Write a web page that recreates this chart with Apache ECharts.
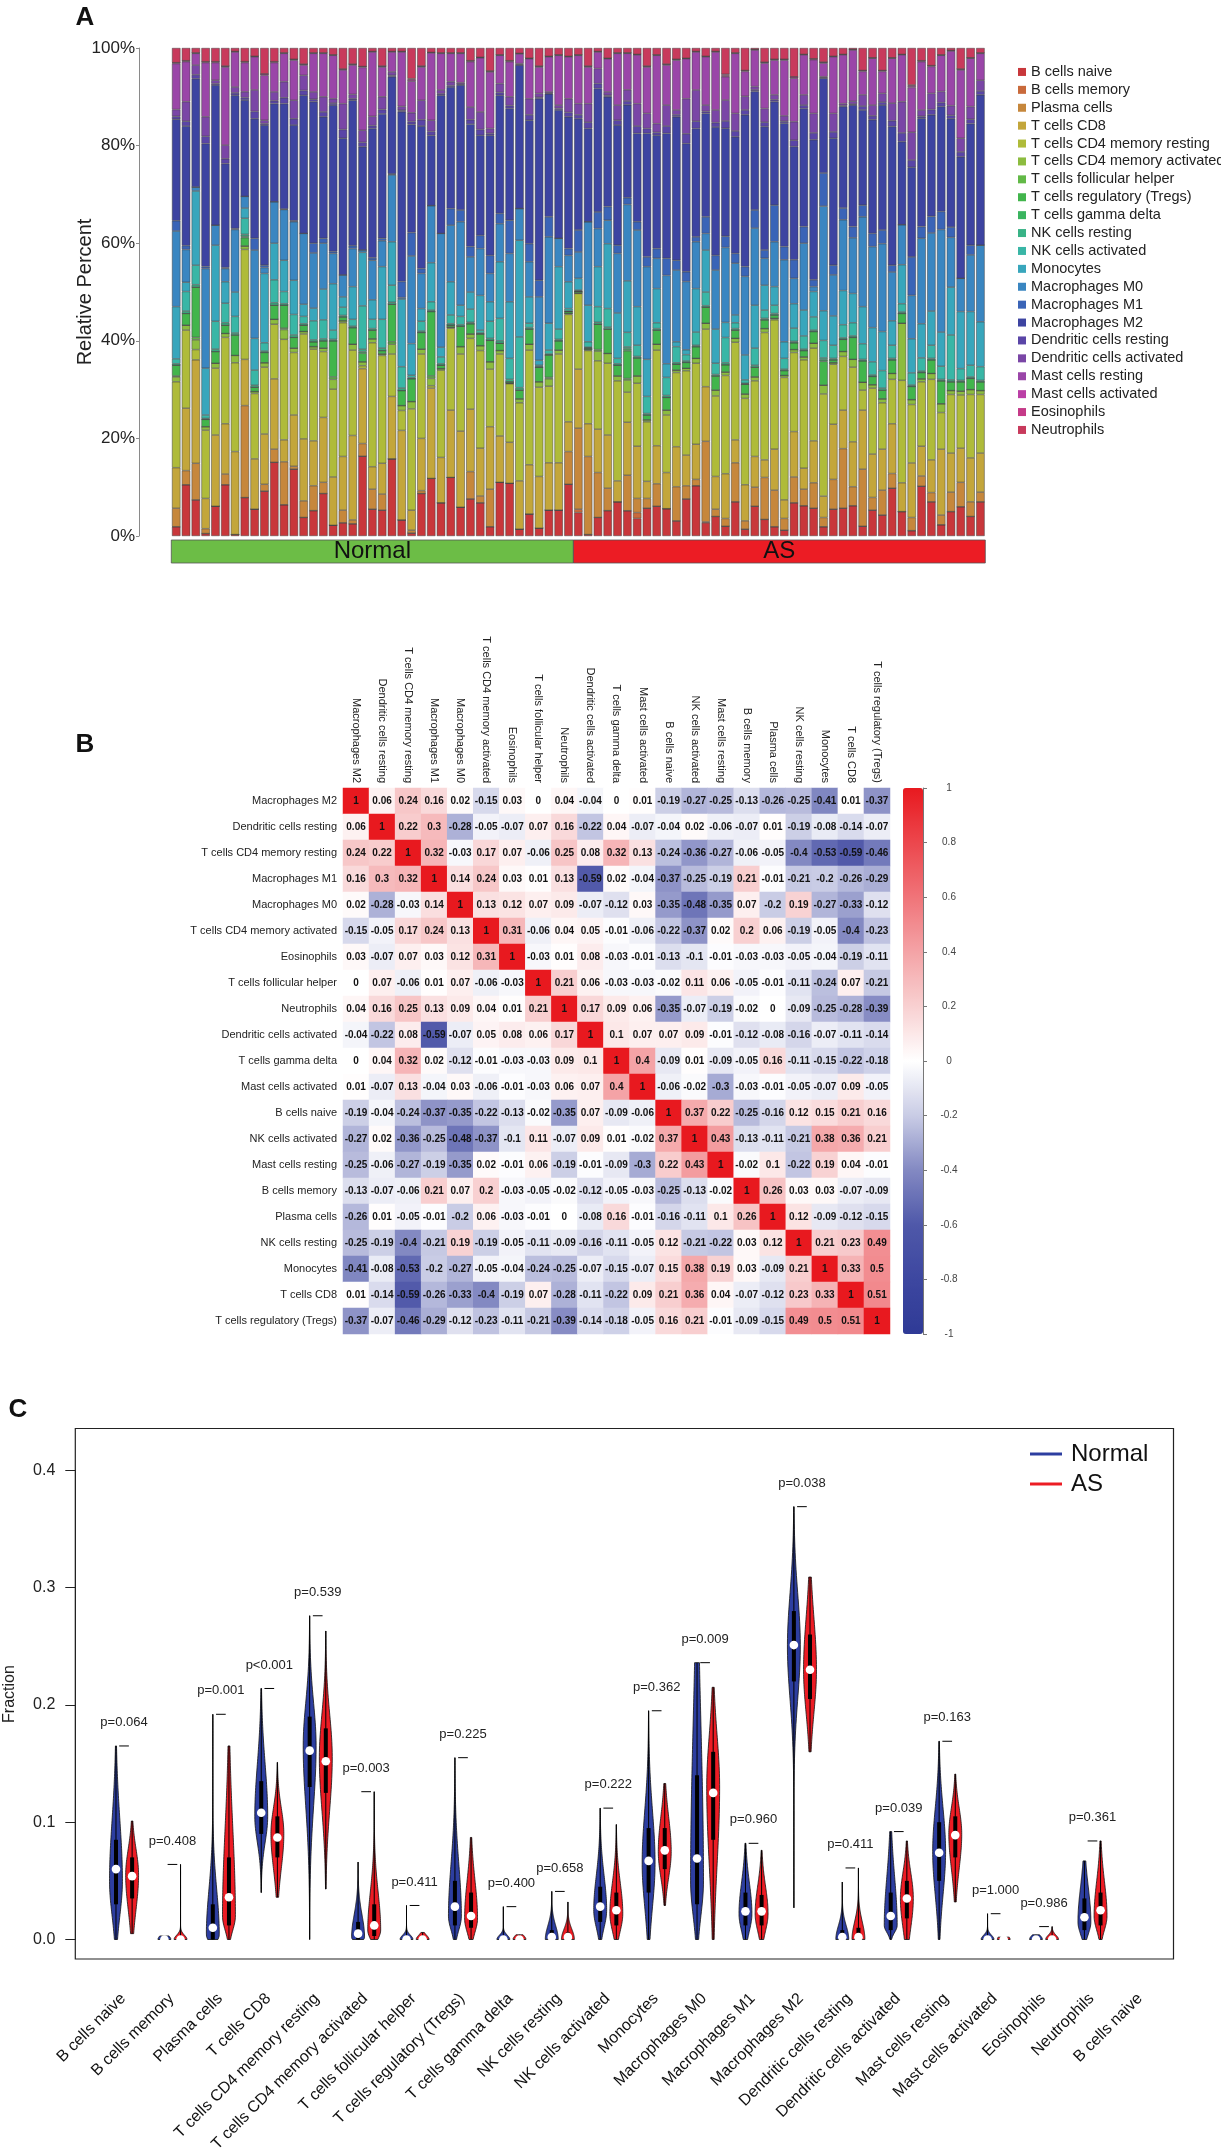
<!DOCTYPE html>
<html><head><meta charset="utf-8">
<script src="https://cdn.jsdelivr.net/npm/echarts/dist/echarts.min.js"></script>
<style>html,body{margin:0;padding:0;background:#fff}#c{width:1221px;height:2151px}</style>
</head><body><div id="c"></div>
<script>
// ---------- Panel A data (percent per sample, 83 samples) ----------
const cellTypes = ["B cells naive","B cells memory","Plasma cells","T cells CD8","T cells CD4 memory resting","T cells CD4 memory activated","T cells follicular helper","T cells regulatory (Tregs)","T cells gamma delta","NK cells resting","NK cells activated","Monocytes","Macrophages M0","Macrophages M1","Macrophages M2","Dendritic cells resting","Dendritic cells activated","Mast cells resting","Mast cells activated","Eosinophils","Neutrophils"];
const typeColors = ["#c8373b","#c96a3b","#c6873c","#c3a63b","#afbb3a","#8cbc3f","#62b947","#42b54c","#3ab45f","#38b386","#39b6a6","#38a6bc","#3a86c1","#3a64b7","#3d44a1","#5a45a7","#7a46a6","#9a46a8","#bb3fa6","#c53a88","#c83a5c"];
const groupNames = ["Normal","AS"];
const groupSizes = [41, 42];
const groupColors = ["#6cbd46","#ec1c24"];

const bNaive = [1.9,10.5,7.4,0.5,6.1,10.5,0.3,7.9,5.5,9.2,15.1,6.4,13.7,3.8,5.2,8.7,2.2,2.7,2.5,16.4,5.5,5.3,15.8,3.3,0.6,8.7,11.8,6.8,12.0,5.9,7.6,6.8,1.9,11.0,10.8,1.4,4.5,1.6,5.3,5.3,10.6,4.8,0.3,3.8,5.2,7.0,5.2,3.6,5.7,6.1,5.6,3.1,7.6,10.3,2.7,4.0,2.0,7.0,1.4,6.1,3.4,1.9,1.2,6.8,6.2,5.7,1.9,5.5,5.7,6.2,2.0,5.3,4.3,9.8,5.0,1.1,10.2,7.0,2.3,5.0,6.0,4.0,7.0];
const bMemory = [0,0,0,0,0,0,0,0,0,0,0,0,0,0,0,0,0,0,0,0,0,0,0,0,0,0,0,0,0,0,0,0,0,0,0,0,0,0,0,0,0,0.7,0,0,0,0,0,1.2,0,0,0,0,0,0,0.2,0,0,0,0,0,0,0,0,0,0,0,0,0,0,0,0,0,0,0,0,0,0,0,0,0,0,0,0];
const plasma = [3.8,2.9,7.5,1.0,0,2.2,0,18.9,0,1.4,2.7,8.8,0.6,3.4,5.1,2.3,0,2.6,0.8,2.6,4.1,3.3,0,0,0.6,0.6,0,0,0,0,5.6,1.4,7.7,0,0,0,0,0,0,0,6.7,16.6,16.0,9.2,4.6,0,7.3,2.9,2.0,4.6,0,7.0,2.7,1.3,16.5,1.5,1.6,8.0,1.7,3.9,8.6,7.5,2.4,5.3,3.4,5.2,1.9,6.1,12.2,3.9,11.7,2.6,5.1,3.0,0,2.7,2.1,1.9,2.0,4.0,5.0,3.0,2.0];
const tCD8 = [8.3,12.8,21.2,6.2,14.6,10.3,17.0,9.5,10.3,10.3,14.4,4.5,10.5,12.7,9.2,13.3,9.9,11.0,17.3,15.4,4.6,6.3,12.8,18.4,4.1,10.7,18.5,9.3,13.8,15.6,12.8,9.8,12.8,9.5,8.4,9.9,10.1,10.6,9.7,9.7,6.1,12.1,6.7,8.9,10.9,4.3,10.9,10.7,3.5,7.8,7.4,8.2,6.3,7.2,11.2,6.7,9.2,4.7,7.4,6.3,3.6,8.4,3.8,9.3,4.3,8.6,4.4,11.3,7.9,9.2,12.1,8.9,8.4,10.2,5.9,11.2,6.1,6.7,13.5,8.0,7.0,9.0,8.0];
const tCD4Resting = [17.6,16.0,2.1,14.0,13.7,17.7,18.2,22.6,13.4,13.7,11.2,20.6,12.8,21.5,18.8,13.5,18.0,27.4,17.5,0.6,25.4,22.1,8.7,4.1,20.8,17.3,0.5,17.9,16.8,15.8,14.5,20.0,11.8,16.8,12.0,16.0,23.5,18.3,15.7,22.3,22.0,15.5,15.0,14.0,14.7,20.5,6.2,12.9,12.2,19.6,11.8,15.2,17.3,16.6,11.8,16.5,20.2,20.0,17.7,15.5,26.1,26.5,25.1,16.2,22.2,19.0,21.0,12.3,11.0,15.3,4.1,13.5,9.5,9.1,21.0,12.0,13.2,16.5,7.5,12.0,10.9,13.0,12.0];
const tCD4Activated = [1.0,1.0,2.0,0.7,1.0,0.8,1.5,0.7,0.4,0.9,1.0,2.0,0.9,0.5,0.5,0.7,2.0,0.4,1.2,0.8,0.8,0.3,2.0,1.0,1.5,1.0,1.5,0.3,0.2,1.5,0.9,1.0,1.5,0.7,0.1,0.8,1.2,1.1,1.5,0.8,0.2,0.1,0.2,2.0,2.0,1.0,2.5,1.5,0.4,1.2,1.0,0.5,0.5,1.0,1.2,1.2,0.7,0.8,0.9,0.8,0.8,0.3,0.4,0.6,0.6,1.0,1.8,0.3,1.0,1.6,1.6,0.7,0.8,1.2,11.7,1.0,0.6,1.2,1.8,0.8,0.8,1.0,0.8];
const tFollicular = [0.2,0,0.5,0,0,0,0,0,0,0,0,0.3,0,0,0,0,0.5,0,0,0,0,0,0.5,0,0,0,0.5,0,0,0,0,0,0,0,0,0,0,0,0.3,0,0,0,0,0.3,0,0,0.3,0,0,0,0,0,0,0,0,0,0,0,0,0,0,0,0,0,0,0,0,0,0,0,0,0,0,0,0,0,0,0,0,0,0,0,0];
const tRegs = [2.2,2.4,10.3,1.5,2.4,1.7,4.2,1.7,0.9,2.1,2.9,4.7,2.2,1.3,1.0,1.5,7.4,0.8,3.4,1.8,1.8,0.7,7.7,3.1,4.7,3.4,13.2,0.7,0.4,4.2,2.1,2.4,4.4,1.5,0.3,1.8,3.1,3.0,4.6,1.9,0.4,0.3,0.3,5.2,5.0,2.2,5.7,3.7,1.0,2.9,2.6,1.2,1.2,2.4,3.3,2.9,1.5,1.7,2.0,2.0,1.8,0.7,1.0,1.4,1.3,2.4,4.9,0.6,2.5,4.5,4.4,1.7,1.8,2.8,2.0,2.7,1.3,2.8,4.7,1.8,1.9,2.3,1.8];
const tGammaDelta = [0,0,0,0,0,0,0,0.3,0,0,0,0,0,0,0,0,0,0,0,0.3,0,0,0,0,0,0,0,0,0,0,0,0,0,0,0,0,0,0,0,0,0,0,0,0,0,0,0.4,0,0,0,0,0,0,0,0,0,0,0,0,0,0,0,0,0,0,0,0.3,0,0,0,0,0,0,0,0,0,0,0,0,0,0,0,0];
const nkResting = [0.3,0.5,0.5,0.2,0.5,0.5,0.4,0.4,0.4,0.3,0.5,0.3,0.5,0.3,0.4,0.4,0.3,0.3,0.3,0.5,0.3,0.5,0.4,0.5,0.2,0.3,0.3,0.3,0.3,0.3,0.3,0.2,0.4,0.5,0.5,0.5,0.3,0.1,0.2,0.3,0.1,0.1,0.2,0.4,0.4,0.3,0.4,0.3,0.3,0.3,0.4,0.3,0.3,0.3,0.3,0.3,0.4,0.3,0.2,0.4,0.3,0.3,0.3,0.3,0.3,0.3,0.4,0.3,0.3,0.3,0.3,0.3,0.4,0.3,0.3,0.3,0.3,0.3,0.3,0.4,0.3,0.3,0.3];
const nkActivated = [1.0,4.0,4.0,0.7,5.7,4.0,3.4,3.3,3.1,1.7,4.7,2.5,4.2,1.5,3.9,3.9,1.9,1.7,1.4,8.9,1.9,5.9,3.5,4.4,0.5,2.0,1.7,1.4,1.8,1.7,2.7,0.6,3.5,4.6,4.3,10.4,0.9,0.3,0.8,2.1,0.5,0.2,1.1,3.2,3.8,1.1,3.0,2.3,3.5,1.2,3.7,3.3,1.3,2.7,2.8,2.3,5.2,1.2,0.7,3.5,1.7,1.7,2.2,2.7,2.7,2.7,3.6,2.7,2.7,2.7,3.2,2.7,3.6,2.7,1.7,2.5,2.7,2.7,2.7,9.2,2.4,2.4,2.8];
const monocytes = [10.7,1.9,15.2,9.6,15.6,4.4,5.0,2.1,6.5,14.2,7.5,6.4,7.0,2.5,2.6,6.3,9.5,2.1,6.7,11.0,4.0,10.8,8.9,13.9,6.5,2.6,8.0,2.0,6.8,2.3,3.5,7.1,4.0,11.6,11.6,19.8,5.4,1.0,5.5,12.8,5.5,2.4,7.5,8.2,13.3,9.3,10.6,7.9,7.6,7.0,2.8,1.0,1.0,8.9,8.6,7.0,3.1,1.6,5.1,8.8,5.1,3.8,3.4,5.0,5.3,5.2,6.1,6.0,7.0,6.0,7.6,7.0,8.0,5.0,8.0,7.0,7.0,7.0,7.0,9.8,11.7,11.0,9.2];
const macM0 = [15.5,6.7,0.8,20.4,4.1,2.7,12.8,2.4,18.1,1.2,8.5,10.4,12.0,14.5,11.3,9.4,6.2,4.5,7.8,0.5,8.1,5.3,13.7,0.3,18.0,7.2,11.7,23.3,11.6,17.1,7.2,9.6,5.8,7.8,9.9,6.5,7.2,13.0,17.7,5.8,5.4,5.4,17.1,7.8,4.8,12.2,15.7,15.7,19.0,6.2,18.1,14.7,14.0,9.6,3.4,12.1,15.4,10.6,16.1,15.8,5.5,9.2,16.8,5.2,13.7,1.0,21.5,8.4,14.5,11.4,18.4,16.6,18.0,10.0,8.2,8.9,17.5,16.0,21.0,10.2,6.8,11.6,15.7];
const macM1 = [2.1,0.8,0,0.4,0,0.2,0.2,0,2.4,0.5,0,0.1,0.2,0,2.0,1.0,0.4,0,0.6,0,0.5,0.5,0.2,3.3,4.8,1.0,0,0,3.4,2.4,2.1,2.7,3.7,2.1,6.8,0,3.7,3.4,4.1,0,1.4,4.5,0,3.4,2.8,1.7,1.4,1.7,2.0,2.0,3.5,2.0,2.0,1.0,3.4,3.0,2.3,2.0,2.0,3.7,1.7,7.5,2.7,3.8,3.4,1.4,6.8,2.0,2.4,2.3,2.4,2.7,2.8,1.4,0,7.9,2.4,3.4,3.7,2.1,0,2.0,0];
const macM2 = [20.8,24.5,22.2,25.2,28.7,21.3,27.3,19.8,24.5,28.7,20.1,21.6,19.6,28.3,29.0,24.9,30.0,28.0,29.8,21.2,26.5,25.5,19.9,34.9,22.2,29.2,14.4,28.3,24.9,25.6,25.1,20.5,24.6,24.2,22.9,29.4,25.3,37.2,25.2,26.3,27.0,22.8,19.1,25.3,22.5,24.6,19.1,18.1,25.3,23.2,25.6,29.4,26.3,22.2,21.2,26.3,22.2,23.9,31.1,24.3,25.3,21.2,25.3,23.2,24.2,28.7,19.5,26.0,20.8,24.9,19.5,23.3,25.6,28.4,17.0,18.4,22.2,20.8,21.5,22.2,24.9,24.9,30.8];
const dcResting = [0.6,1.0,0.8,1.5,0.3,1.0,0.5,0.5,1.5,0.3,0.6,1.2,1.3,1.0,0.5,1.0,0.4,1.8,0.3,0.9,0.6,0.9,0.3,0.3,0.6,1.3,0.8,0.3,0.3,0.2,0.9,1.2,0.4,0.6,0.6,0.1,1.1,0.3,0.1,0.3,0.9,0.8,1.3,1.0,0.3,1.0,0.8,1.5,1.0,0.6,1.5,0.4,2.0,1.5,0.4,0.9,1.5,1.2,1.0,0.3,0.9,0.4,0.4,1.3,0.7,1.4,0.1,1.3,0.2,0.2,0.8,0.8,0.6,1.2,1.8,1.5,0.4,1.1,0.8,0.7,1.0,0.9,0.8];
const dcActivated = [1.4,4.0,2.0,4.0,0.7,2.8,1.2,1.2,4.4,0.7,1.8,3.3,3.8,3.1,1.5,3.1,0.9,5.3,0.9,2.5,1.9,2.6,0.7,0.8,1.8,4.0,2.3,0.8,0.8,0.3,2.6,3.6,1.0,1.8,1.8,0.2,3.3,0.8,0.3,0.7,2.8,2.3,3.8,3.1,0.7,3.1,2.3,4.6,3.1,1.8,4.3,1.0,7.2,6.4,1.3,2.6,4.3,3.6,2.8,0.7,2.8,1.0,1.1,3.8,2.1,4.0,0.2,3.8,0.4,0.6,2.3,2.2,1.8,3.6,6.4,5.7,1.3,3.3,2.3,2.0,2.8,2.6,2.2];
const mastResting = [9.4,8.2,2.4,11.1,3.6,16.0,7.2,6.0,6.8,9.2,6.0,5.8,8.2,2.1,7.9,8.9,8.9,6.9,6.0,12.9,13.2,6.1,4.1,11.2,6.5,6.8,13.8,7.5,5.8,6.0,9.3,11.1,11.6,5.8,7.2,2.0,8.2,5.4,7.2,10.2,8.6,9.9,7.5,3.4,6.8,10.6,7.5,10.0,9.5,14.0,8.2,10.2,8.2,7.8,9.9,11.9,4.8,12.3,5.1,7.5,9.3,7.1,11.4,8.9,8.2,11.0,2.8,11.6,10.0,10.5,4.8,9.6,4.5,9.2,9.6,9.2,9.9,5.5,7.4,11.2,14.0,9.9,5.5];
const mastActivated = [0.2,0.2,0.1,0.2,0.2,0.2,0.1,0.2,0.1,0.3,0.2,0.1,0.2,0.2,0.1,0.1,0.1,0.2,0.2,0.2,0.1,0.2,0.1,0.1,0.3,0.2,0.1,0.1,0.1,0.1,0.2,0.1,0.2,0.1,0.2,0.1,0.1,0.2,0.1,0.1,0.1,0.1,0.2,0.1,0.1,0.1,0.1,0.1,0.2,0.1,0.2,0.2,0.1,0.1,0.1,0.1,0.2,0.1,0.2,0.1,0.2,0.2,0.2,0.3,0.1,0.2,0.2,0.1,0.1,0.1,0.2,0.1,0.2,0.1,0.1,0.3,0.2,0.2,0.1,0.1,0.2,0.1,0.1];
const eosinophils = [0,0,0,0,0,0,0,0,0,0,0,0,0,0,0,0,0,0,0,0,0,0,0,0,0.2,0,0,0,0,0,0,0,0,0,0,0,0,0,0,0,0,0,0,0,0,0,0,0,0,0,0,0,0,0,0,0,0.3,0,0,0,0,0,0,0,0,0,0,0,0,0,0,0,0,0,0,0.2,0,0,0,0,0,0,0];
const neutrophils = [3.0,2.6,1.0,2.8,2.8,3.7,0.7,2.8,1.7,5.3,2.8,1.0,2.3,3.3,1.0,1.0,1.4,4.3,3.3,3.8,0.7,3.7,0.7,0.7,6.3,3.7,0.9,1.0,1.0,1.0,2.6,1.9,4.7,1.4,2.6,1.1,2.1,3.7,1.7,1.4,1.7,1.4,3.7,0.7,2.1,1.0,1.0,1.3,3.7,1.4,3.3,2.3,2.1,0.7,1.7,0.7,5.4,1.0,4.6,0.3,2.9,2.3,2.3,5.9,1.3,2.2,2.9,1.7,1.3,0.3,4.6,2.0,4.6,2.0,1.3,7.6,2.6,3.6,1.4,0.5,4.3,2.0,1.0];
const yTicksA = [0,20,40,60,80,100];

// ---------- Panel B data ----------
const heatLabels = ["Macrophages M2","Dendritic cells resting","T cells CD4 memory resting","Macrophages M1","Macrophages M0","T cells CD4 memory activated","Eosinophils","T cells follicular helper","Neutrophils","Dendritic cells activated","T cells gamma delta","Mast cells activated","B cells naive","NK cells activated","Mast cells resting","B cells memory","Plasma cells","NK cells resting","Monocytes","T cells CD8","T cells regulatory (Tregs)"];
const corrMatrix = [
[1,0.06,0.24,0.16,0.02,-0.15,0.03,0,0.04,-0.04,0,0.01,-0.19,-0.27,-0.25,-0.13,-0.26,-0.25,-0.41,0.01,-0.37],
[0.06,1,0.22,0.3,-0.28,-0.05,-0.07,0.07,0.16,-0.22,0.04,-0.07,-0.04,0.02,-0.06,-0.07,0.01,-0.19,-0.08,-0.14,-0.07],
[0.24,0.22,1,0.32,-0.03,0.17,0.07,-0.06,0.25,0.08,0.32,0.13,-0.24,-0.36,-0.27,-0.06,-0.05,-0.4,-0.53,-0.59,-0.46],
[0.16,0.3,0.32,1,0.14,0.24,0.03,0.01,0.13,-0.59,0.02,-0.04,-0.37,-0.25,-0.19,0.21,-0.01,-0.21,-0.2,-0.26,-0.29],
[0.02,-0.28,-0.03,0.14,1,0.13,0.12,0.07,0.09,-0.07,-0.12,0.03,-0.35,-0.48,-0.35,0.07,-0.2,0.19,-0.27,-0.33,-0.12],
[-0.15,-0.05,0.17,0.24,0.13,1,0.31,-0.06,0.04,0.05,-0.01,-0.06,-0.22,-0.37,0.02,0.2,0.06,-0.19,-0.05,-0.4,-0.23],
[0.03,-0.07,0.07,0.03,0.12,0.31,1,-0.03,0.01,0.08,-0.03,-0.01,-0.13,-0.1,-0.01,-0.03,-0.03,-0.05,-0.04,-0.19,-0.11],
[0,0.07,-0.06,0.01,0.07,-0.06,-0.03,1,0.21,0.06,-0.03,-0.03,-0.02,0.11,0.06,-0.05,-0.01,-0.11,-0.24,0.07,-0.21],
[0.04,0.16,0.25,0.13,0.09,0.04,0.01,0.21,1,0.17,0.09,0.06,-0.35,-0.07,-0.19,-0.02,0,-0.09,-0.25,-0.28,-0.39],
[-0.04,-0.22,0.08,-0.59,-0.07,0.05,0.08,0.06,0.17,1,0.1,0.07,0.07,0.09,-0.01,-0.12,-0.08,-0.16,-0.07,-0.11,-0.14],
[0,0.04,0.32,0.02,-0.12,-0.01,-0.03,-0.03,0.09,0.1,1,0.4,-0.09,0.01,-0.09,-0.05,0.16,-0.11,-0.15,-0.22,-0.18],
[0.01,-0.07,0.13,-0.04,0.03,-0.06,-0.01,-0.03,0.06,0.07,0.4,1,-0.06,-0.02,-0.3,-0.03,-0.01,-0.05,-0.07,0.09,-0.05],
[-0.19,-0.04,-0.24,-0.37,-0.35,-0.22,-0.13,-0.02,-0.35,0.07,-0.09,-0.06,1,0.37,0.22,-0.25,-0.16,0.12,0.15,0.21,0.16],
[-0.27,0.02,-0.36,-0.25,-0.48,-0.37,-0.1,0.11,-0.07,0.09,0.01,-0.02,0.37,1,0.43,-0.13,-0.11,-0.21,0.38,0.36,0.21],
[-0.25,-0.06,-0.27,-0.19,-0.35,0.02,-0.01,0.06,-0.19,-0.01,-0.09,-0.3,0.22,0.43,1,-0.02,0.1,-0.22,0.19,0.04,-0.01],
[-0.13,-0.07,-0.06,0.21,0.07,0.2,-0.03,-0.05,-0.02,-0.12,-0.05,-0.03,-0.25,-0.13,-0.02,1,0.26,0.03,0.03,-0.07,-0.09],
[-0.26,0.01,-0.05,-0.01,-0.2,0.06,-0.03,-0.01,0,-0.08,0.16,-0.01,-0.16,-0.11,0.1,0.26,1,0.12,-0.09,-0.12,-0.15],
[-0.25,-0.19,-0.4,-0.21,0.19,-0.19,-0.05,-0.11,-0.09,-0.16,-0.11,-0.05,0.12,-0.21,-0.22,0.03,0.12,1,0.21,0.23,0.49],
[-0.41,-0.08,-0.53,-0.2,-0.27,-0.05,-0.04,-0.24,-0.25,-0.07,-0.15,-0.07,0.15,0.38,0.19,0.03,-0.09,0.21,1,0.33,0.5],
[0.01,-0.14,-0.59,-0.26,-0.33,-0.4,-0.19,0.07,-0.28,-0.11,-0.22,0.09,0.21,0.36,0.04,-0.07,-0.12,0.23,0.33,1,0.51],
[-0.37,-0.07,-0.46,-0.29,-0.12,-0.23,-0.11,-0.21,-0.39,-0.14,-0.18,-0.05,0.16,0.21,-0.01,-0.09,-0.15,0.49,0.5,0.51,1]
];
const corrColors = ["#2f3a96","#3d47a0","#4f58a9","#8389c2","#c9cce5","#ffffff","#f8d0d1","#f4a3a6","#f07479","#ec474d","#e8191f"];

// ---------- Panel C data: [min, q1, median, q3, max, mode] ----------
const normalStats = [
[0,0.03,0.060,0.085,0.165,0.05],[0,0,0,0,0.003,0],[0,0,0.01,0.03,0.192,0.004],[0.04,0.09,0.108,0.135,0.214,0.105],
[0,0.13,0.161,0.19,0.276,0.165],[0,0,0.005,0.015,0.066,0.002],[0,0,0,0,0.029,0],[0,0.012,0.028,0.05,0.155,0.02],
[0,0,0,0,0.028,0],[0,0,0.002,0.008,0.041,0],[0,0.015,0.028,0.045,0.112,0.025],[0,0.04,0.067,0.095,0.195,0.065],
[0,0.03,0.069,0.14,0.236,0.05],[0,0.012,0.024,0.04,0.082,0.022],[0.027,0.22,0.251,0.28,0.369,0.25],[0,0,0.002,0.008,0.049,0],
[0,0.008,0.02,0.04,0.092,0.012],[0,0.05,0.074,0.1,0.169,0.075],[0,0,0,0,0.022,0],[0,0,0,0,0.004,0],[0,0.008,0.019,0.035,0.067,0.015]
];
const asStats = [
[0.005,0.035,0.054,0.07,0.101,0.055],[0,0,0,0.002,0.064,0],[0,0.012,0.036,0.07,0.165,0.02],[0.036,0.07,0.087,0.105,0.151,0.09],
[0.043,0.125,0.152,0.18,0.263,0.155],[0,0.003,0.012,0.03,0.126,0.008],[0,0,0,0,0.006,0],[0,0.01,0.02,0.04,0.087,0.018],
[0,0,0,0,0.004,0],[0,0,0.002,0.006,0.032,0],[0,0.012,0.025,0.04,0.098,0.022],[0.029,0.06,0.076,0.095,0.133,0.075],
[0,0.085,0.125,0.16,0.215,0.13],[0,0.012,0.024,0.038,0.076,0.022],[0.16,0.205,0.23,0.26,0.309,0.23],[0,0,0.002,0.01,0.061,0],
[0,0.018,0.035,0.05,0.084,0.035],[0.032,0.07,0.089,0.105,0.141,0.09],[0,0,0,0,0.002,0],[0,0,0,0,0.011,0],[0,0.012,0.025,0.04,0.084,0.02]
];
const pLabels = ["p=0.064","p=0.408","p=0.001","p<0.001","p=0.539","p=0.003","p=0.411","p=0.225","p=0.400","p=0.658","p=0.222","p=0.362","p=0.009","p=0.960","p=0.038","p=0.411","p=0.039","p=0.163","p=1.000","p=0.986","p=0.361"];
const xTickLabels = cellTypes.concat(["B cells naive"]);
const yTicksC = [0,0.1,0.2,0.3,0.4];
const groupLineColors = ["#2d3ea0","#ec1c24"];

// ---------- build ----------
const FONT = '"Liberation Sans", Arial, Helvetica, sans-serif';
const fractionSeries = [bNaive,bMemory,plasma,tCD8,tCD4Resting,tCD4Activated,tFollicular,tRegs,tGammaDelta,nkResting,nkActivated,monocytes,macM0,macM1,macM2,dcResting,dcActivated,mastResting,mastActivated,eosinophils,neutrophils];
const sampleIds = bNaive.map((_, i) => 'S' + (i + 1));
const totals = sampleIds.map((_, j) => fractionSeries.reduce((s, arr) => s + arr[j], 0));
const groupRanges = [[0, groupSizes[0] - 1, 0], [groupSizes[0], groupSizes[0] + groupSizes[1] - 1, 1]];

const barSeries = fractionSeries.map((arr, t) => ({
  type: 'bar', name: cellTypes[t], stack: 'pct', xAxisIndex: 0, yAxisIndex: 0,
  barCategoryGap: '14%', silent: true,
  itemStyle: { color: typeColors[t], borderColor: '#404040', borderWidth: 0.5 },
  data: arr.map((v, j) => v / totals[j] * 100)
}));

const heatData = [];
corrMatrix.forEach((row, r) => row.forEach((v, c) => heatData.push([c, r, v])));

function violinRender(color) {
  return function (params, api) {
    const x = api.value(0), mn = api.value(1), q1 = api.value(2), md = api.value(3), q3 = api.value(4), mx = api.value(5), mode = api.value(6);
    const hw = api.size([0.4, 0])[0];
    const sL = Math.max(mode - q1, 0.0025) * 1.48, sR = Math.max(q3 - mode, 0.0025) * 1.48;
    const N = 70, left = [], right = [];
    for (let k = 0; k <= N; k++) {
      const y = mn + (mx - mn) * k / N;
      const s = y < mode ? sL : sR;
      const r = Math.exp(-0.5 * Math.pow((y - mode) / s, 2));
      const p = api.coord([x, y]);
      left.push([p[0] - hw * r, p[1]]);
      right.unshift([p[0] + hw * r, p[1]]);
    }
    const pMin = api.coord([x, mn]), pMax = api.coord([x, mx]);
    const pQ1 = api.coord([x, q1]), pQ3 = api.coord([x, q3]), pMd = api.coord([x, md]);
    const children = [
      { type: 'polygon', shape: { points: left.concat(right) }, style: { fill: color, stroke: '#111', lineWidth: 0.8 } },
      { type: 'line', shape: { x1: pMin[0], y1: pMin[1], x2: pMax[0], y2: pMax[1] }, style: { stroke: '#000', lineWidth: 1 } }
    ];
    if (pQ1[1] - pQ3[1] > 0.5) children.push({ type: 'rect', shape: { x: pQ1[0] - 2, y: pQ3[1], width: 4, height: pQ1[1] - pQ3[1] }, style: { fill: '#000' } });
    children.push({ type: 'circle', shape: { cx: pMd[0], cy: pMd[1], r: 4.3 }, style: { fill: '#fff' } });
    return { type: 'group', children };
  };
}

const violinNormal = {
  type: 'custom', name: 'Normal', xAxisIndex: 5, yAxisIndex: 5, silent: true,
  itemStyle: { color: groupLineColors[0] },
  data: normalStats.map((s, i) => [3 * i].concat(s)),
  renderItem: violinRender(groupLineColors[0])
};
const violinAS = {
  type: 'custom', name: 'AS', xAxisIndex: 5, yAxisIndex: 5, silent: true,
  itemStyle: { color: groupLineColors[1] },
  data: asStats.map((s, i) => [3 * i + 1].concat(s)),
  renderItem: violinRender(groupLineColors[1])
};
const pSeries = {
  type: 'custom', xAxisIndex: 5, yAxisIndex: 5, silent: true,
  data: pLabels.map((_, i) => [3 * i, Math.max(normalStats[i][4], asStats[i][4])]),
  renderItem: function (params, api) {
    const x0 = api.value(0), m = api.value(1);
    const a = api.coord([x0 + 0.2, m]), b = api.coord([x0 + 0.8, m]), t = api.coord([x0 + 0.5, m + 0.02]);
    return { type: 'group', children: [
      { type: 'line', shape: { x1: a[0], y1: a[1], x2: b[0], y2: b[1] }, style: { stroke: '#000', lineWidth: 1 } },
      { type: 'text', x: t[0], y: t[1], style: { text: pLabels[params.dataIndex], fontSize: 13, fontFamily: FONT, fill: '#222', align: 'center', verticalAlign: 'middle' } }
    ] };
  }
};
const xLabelSeries = {
  type: 'custom', xAxisIndex: 5, yAxisIndex: 5, silent: true,
  data: xTickLabels.map((_, i) => [3 * i + 1, -0.05]),
  renderItem: function (params, api) {
    const p = api.coord([api.value(0), api.value(1)]);
    return { type: 'text', x: p[0] - 9, y: p[1] - 2, rotation: Math.PI / 4,
      style: { text: xTickLabels[params.dataIndex], fontSize: 16, fontFamily: FONT, fill: '#111', align: 'right', verticalAlign: 'middle' } };
  }
};
const annotSeries = {
  type: 'custom', xAxisIndex: 1, yAxisIndex: 1, silent: true,
  data: groupRanges,
  renderItem: function (params, api) {
    const s = api.value(0), e = api.value(1), g = api.value(2);
    const bw = api.size([1, 0])[0];
    const p0 = api.coord([s, 1]), p1 = api.coord([e, 0]);
    const x0 = p0[0] - bw / 2, x1 = p1[0] + bw / 2;
    return { type: 'group', children: [
      { type: 'rect', shape: { x: x0, y: p0[1], width: x1 - x0, height: p1[1] - p0[1] }, style: { fill: groupColors[g], stroke: '#555', lineWidth: 0.8 } },
      { type: 'text', x: (x0 + x1) / 2, y: (p0[1] + p1[1]) / 2, style: { text: groupNames[g], fontSize: 24, fontFamily: FONT, fill: '#111', align: 'center', verticalAlign: 'middle' } }
    ] };
  }
};
const heatSeries = {
  type: 'heatmap', xAxisIndex: 2, yAxisIndex: 2, data: heatData, silent: true,
  label: { show: true, formatter: p => String(p.value[2]), fontSize: 10, fontWeight: 'bold', color: '#111', fontFamily: FONT },
  itemStyle: { borderWidth: 0 }, emphasis: { disabled: true }
};

const series = barSeries.concat([annotSeries, heatSeries, violinNormal, violinAS, pSeries, xLabelSeries]);
const heatIndex = barSeries.length + 1;

const option = {
  animation: false,
  textStyle: { fontFamily: FONT },
  grid: [
    { left: 171.3, top: 48, width: 814, height: 488 },
    { left: 171.3, top: 540, width: 814, height: 23 },
    { left: 343, top: 788, width: 547, height: 546 },
    { left: 903, top: 788, width: 20, height: 546 },
    { left: 75.3, top: 1428.5, width: 1098.2, height: 530.5, show: true, borderColor: '#222', borderWidth: 1.2 },
    { left: 75.3, top: 1470.3, width: 1098.2, height: 469.2 }
  ],
  xAxis: [
    { gridIndex: 0, type: 'category', data: sampleIds, show: false },
    { gridIndex: 1, type: 'category', data: sampleIds, show: false },
    { gridIndex: 2, type: 'category', data: heatLabels, position: 'top', axisLine: { show: false }, axisTick: { show: false }, splitLine: { show: false },
      axisLabel: { rotate: 90, interval: 0, fontSize: 11, color: '#222', margin: 5 } },
    { gridIndex: 3, type: 'value', show: false },
    { gridIndex: 4, type: 'value', min: -2.52, max: 65.52, show: false },
    { gridIndex: 5, type: 'value', min: -2.52, max: 65.52, show: false }
  ],
  yAxis: [
    { gridIndex: 0, type: 'value', min: yTicksA[0], max: yTicksA[yTicksA.length - 1], interval: 20, offset: 32.3,
      axisLine: { show: true, onZero: false, lineStyle: { color: '#8a8a8a' } }, axisTick: { show: true, length: 3, lineStyle: { color: '#8a8a8a' } },
      axisLabel: { formatter: '{value}%', fontSize: 17, color: '#222', margin: 4 }, splitLine: { show: false } },
    { gridIndex: 1, type: 'value', min: 0, max: 1, show: false },
    { gridIndex: 2, type: 'category', data: heatLabels, inverse: true, axisLine: { show: false }, axisTick: { show: false },
      axisLabel: { fontSize: 11, color: '#222', margin: 6, interval: 0 } },
    { gridIndex: 3, type: 'value', min: -1, max: 1, interval: 0.2, position: 'right',
      axisLine: { show: true, onZero: false, lineStyle: { color: '#777' } }, axisTick: { show: true, length: 4, lineStyle: { color: '#777' } },
      axisLabel: { fontSize: 10, color: '#444', margin: 26, align: 'center', formatter: v => String(Math.round(v * 10) / 10) }, splitLine: { show: false } },
    { gridIndex: 4, type: 'value', min: -0.01675, max: 0.4356, show: false },
    { gridIndex: 5, type: 'value', min: yTicksC[0], max: yTicksC[yTicksC.length - 1], interval: 0.1, position: 'left',
      axisLine: { show: true, onZero: false, lineStyle: { color: '#222' } }, axisTick: { show: true, length: 10, lineStyle: { color: '#222' } },
      axisLabel: { fontSize: 16, color: '#222', margin: 20, formatter: v => v.toFixed(1) }, splitLine: { show: false } }
  ],
  visualMap: {
    type: 'continuous', min: -1, max: 1, seriesIndex: heatIndex, calculable: false, realtime: false,
    left: 903, top: 788, itemWidth: 20, itemHeight: 546, padding: 0, text: null, hoverLink: false,
    inRange: { color: corrColors }
  },
  legend: [
    { data: cellTypes, orient: 'vertical', left: 1013, top: 58, itemWidth: 8, itemHeight: 8, itemGap: 0, icon: 'rect',
      selectedMode: false, itemStyle: { borderWidth: 0 }, textStyle: { fontSize: 14.5, lineHeight: 17.9, color: '#222' } },
    { data: ['Normal', 'AS'], orient: 'vertical', left: 1025, top: 1434, itemWidth: 32, itemHeight: 3, itemGap: 0, icon: 'rect',
      selectedMode: false, itemStyle: { borderWidth: 0 }, textStyle: { fontSize: 24, lineHeight: 30, color: '#111', padding: [0, 0, 0, 4] } }
  ],
  graphic: [
    { type: 'text', x: 85, y: 18, style: { text: 'A', font: 'bold 26px ' + FONT, fill: '#111', align: 'center', verticalAlign: 'middle' } },
    { type: 'text', x: 85, y: 745, style: { text: 'B', font: 'bold 26px ' + FONT, fill: '#111', align: 'center', verticalAlign: 'middle' } },
    { type: 'text', x: 18, y: 1410, style: { text: 'C', font: 'bold 26px ' + FONT, fill: '#111', align: 'center', verticalAlign: 'middle' } },
    { type: 'text', x: 85, y: 292, rotation: Math.PI / 2, style: { text: 'Relative Percent', font: '20px ' + FONT, fill: '#222', align: 'center', verticalAlign: 'middle' } },
    { type: 'text', x: 10, y: 1694, rotation: Math.PI / 2, style: { text: 'Fraction', font: '16px ' + FONT, fill: '#222', align: 'center', verticalAlign: 'middle' } }
  ],
  series: series
};
const chart = echarts.init(document.getElementById('c'), null, { renderer: 'canvas' });
chart.setOption(option);
</script></body></html>
